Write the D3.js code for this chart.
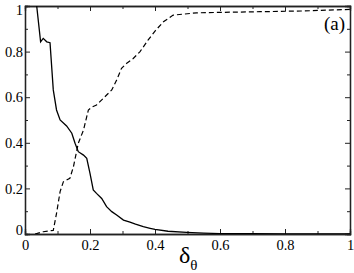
<!DOCTYPE html>
<html lang="en">
<head>
<meta charset="UTF-8">
<title>chart</title>
<script src="https://cdn.jsdelivr.net/npm/d3@7"></script>
<style>
  body { margin: 0; background: #fff; }
  svg text { font-family: "Liberation Serif", "Times New Roman", serif; }
</style>
</head>
<body>
<div id="workspace"></div>
<script>
    // solid curve (decreasing)
    const solidX = [0.030, 0.036, 0.048, 0.056, 0.067, 0.077, 0.087, 0.097, 0.108, 0.128, 0.144, 0.154, 0.164, 0.180, 0.190, 0.200, 0.210, 0.220, 0.236, 0.251, 0.267, 0.282, 0.303, 0.323, 0.340, 0.364, 0.385, 0.400, 0.440, 0.497, 0.550, 0.600, 0.700, 0.800, 0.900, 1.000];
    const solidY = [1.10, 1.00, 0.843, 0.858, 0.843, 0.839, 0.632, 0.544, 0.500, 0.474, 0.442, 0.398, 0.361, 0.346, 0.332, 0.266, 0.193, 0.178, 0.156, 0.120, 0.098, 0.083, 0.061, 0.052, 0.043, 0.032, 0.025, 0.020, 0.012, 0.007, 0.004, 0.002, 0.001, 0.000, 0.000, 0.000];
    // dashed curve (increasing)
    const dashX = [0.031, 0.056, 0.087, 0.097, 0.108, 0.118, 0.128, 0.138, 0.149, 0.164, 0.180, 0.195, 0.205, 0.220, 0.241, 0.267, 0.282, 0.297, 0.313, 0.333, 0.354, 0.379, 0.400, 0.426, 0.456, 0.528, 0.600, 0.723, 0.850, 1.000];
    const dashY = [0.000, 0.010, 0.016, 0.090, 0.186, 0.229, 0.237, 0.244, 0.295, 0.398, 0.456, 0.544, 0.556, 0.566, 0.595, 0.632, 0.675, 0.727, 0.749, 0.770, 0.800, 0.851, 0.890, 0.931, 0.960, 0.970, 0.972, 0.975, 0.978, 0.985];
    const majorTicks = [0, 0.2, 0.4, 0.6, 0.8, 1];
    const minorTicks = [0.1, 0.3, 0.5, 0.7, 0.9];
    const tickLabels = ["0", "0.2", "0.4", "0.6", "0.8", "1"];

    const W = 354, H = 273;
    const margin = { top: 6, right: 4, bottom: 39, left: 25 };
    const iw = W - margin.left - margin.right;
    const ih = H - margin.top - margin.bottom;
    const serif = "'Liberation Serif', 'Times New Roman', serif";

    const svg = d3.select("#workspace").append("svg")
        .attr("width", W).attr("height", H);

    const g = svg.append("g")
        .attr("transform", "translate(" + margin.left + "," + margin.top + ")");

    const x = d3.scaleLinear().domain([0, 1]).range([0, iw]);
    const y = d3.scaleLinear().domain([0, 1]).range([ih, 0]);

    // clip
    g.append("clipPath").attr("id", "clip")
        .append("rect").attr("width", iw).attr("height", ih);

    const fmt = function (d) { return tickLabels[majorTicks.indexOf(d)]; };

    function axisSet(axisFn, scale, tr, labels) {
        const major = g.append("g").attr("transform", tr)
            .call(axisFn(scale).tickValues(majorTicks).tickSize(-5).tickPadding(7)
                .tickFormat(labels ? fmt : ""));
        g.append("g").attr("transform", tr)
            .call(axisFn(scale).tickValues(minorTicks).tickSize(-3).tickFormat(""));
        major.attr("font-family", serif);
        return major;
    }
    const bx = axisSet(d3.axisBottom, x, "translate(0," + ih + ")", true);
    axisSet(d3.axisTop, x, "translate(0,0)", false);
    const ly = axisSet(d3.axisLeft, y, "translate(0,0)", true);
    axisSet(d3.axisRight, y, "translate(" + iw + ",0)", false);

    g.selectAll(".domain").attr("stroke", "#222").attr("stroke-width", 1.3);
    g.selectAll(".tick line").attr("stroke", "#222");
    g.selectAll(".tick text").attr("font-size", 14.5).attr("fill", "#000")
        .attr("font-family", serif).style("font-family", serif);
    bx.selectAll(".tick text").attr("dy", "0.75em").attr("y", 5);
    ly.selectAll(".tick text").attr("x", -2).attr("dy", "0.32em");
    // labels at 0 and 1 are nudged like the original
    ly.selectAll(".tick text").filter(function (d) { return d === 0; }).attr("dy", "0.05em");
    ly.selectAll(".tick text").filter(function (d) { return d === 1; }).attr("dy", "0.6em");

    const line = d3.line().x(function (d) { return x(d[0]); }).y(function (d) { return y(d[1]); });

    const plot = g.append("g").attr("clip-path", "url(#clip)");
    plot.append("path")
        .datum(d3.zip(solidX, solidY))
        .attr("d", line)
        .attr("fill", "none").attr("stroke", "#000").attr("stroke-width", 1.3);
    plot.append("path")
        .datum(d3.zip(dashX, dashY))
        .attr("d", line)
        .attr("fill", "none").attr("stroke", "#000").attr("stroke-width", 1.2)
        .attr("stroke-dasharray", "5,3");

    // panel label
    g.append("text").attr("x", iw - 5).attr("y", 24)
        .attr("text-anchor", "end").attr("font-size", 19)
        .style("font-family", serif).text("(a)");

    // x axis title
    const t = svg.append("text").attr("x", 179).attr("y", 263).attr("font-size", 24)
        .style("font-family", serif);
    t.append("tspan").text("δ");
    t.append("tspan").attr("font-size", 15).attr("dy", 7).text("θ");
</script>
</body>
</html>
